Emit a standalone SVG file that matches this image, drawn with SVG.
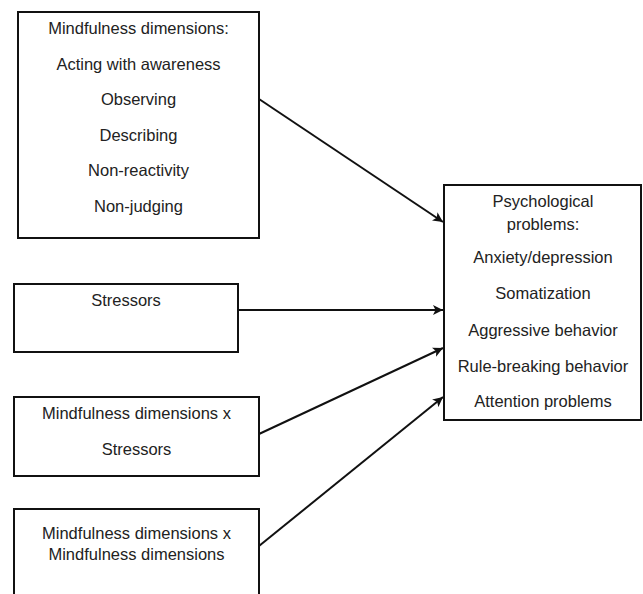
<svg xmlns="http://www.w3.org/2000/svg" width="643" height="594" viewBox="0 0 643 594">
<style>
.box{fill:#fff;stroke:#111;stroke-width:2}
.t{font-family:"Liberation Sans",Arial,sans-serif;font-size:16.5px;fill:#222;text-anchor:middle}
.c{stroke:#111;stroke-width:2;fill:none}
</style>
<defs>
<marker id="ah" viewBox="0 0 10 10" refX="10" refY="5" markerWidth="5" markerHeight="5" orient="auto" markerUnits="strokeWidth">
<path d="M0,0 L10,5 L0,10 L2.5,5 Z" fill="#111"/>
</marker>
</defs>
<rect width="643" height="594" fill="#fff"/>
<g id="connectors">
<line class="c" x1="259" y1="99" x2="443" y2="222" marker-end="url(#ah)"/>
<line class="c" x1="238" y1="310" x2="443" y2="310" marker-end="url(#ah)"/>
<line class="c" x1="259" y1="434" x2="443" y2="348" marker-end="url(#ah)"/>
<line class="c" x1="259" y1="546" x2="443" y2="397" marker-end="url(#ah)"/>
</g>
<g id="mindfulness">
<rect class="box" x="18" y="12" width="241" height="226"/>
<text class="t" x="138.5" y="34">Mindfulness dimensions:</text>
<text class="t" x="138.5" y="69.5">Acting with awareness</text>
<text class="t" x="138.5" y="105">Observing</text>
<text class="t" x="138.5" y="140.5">Describing</text>
<text class="t" x="138.5" y="176">Non-reactivity</text>
<text class="t" x="138.5" y="211.5">Non-judging</text>
</g>
<g id="stressors">
<rect class="box" x="14" y="284" width="224" height="68"/>
<text class="t" x="126" y="306">Stressors</text>
</g>
<g id="mxs">
<rect class="box" x="14" y="397" width="245" height="79"/>
<text class="t" x="136.5" y="419">Mindfulness dimensions x</text>
<text class="t" x="136.5" y="455">Stressors</text>
</g>
<g id="mxm">
<rect class="box" x="14" y="509" width="245" height="100"/>
<text class="t" x="136.5" y="539">Mindfulness dimensions x</text>
<text class="t" x="136.5" y="560">Mindfulness dimensions</text>
</g>
<g id="psych">
<rect class="box" x="444" y="185" width="197" height="235"/>
<text class="t" x="543" y="207">Psychological</text>
<text class="t" x="543" y="230">problems:</text>
<text class="t" x="543" y="263">Anxiety/depression</text>
<text class="t" x="543" y="299">Somatization</text>
<text class="t" x="543" y="335.5">Aggressive behavior</text>
<text class="t" x="543" y="371.5">Rule-breaking behavior</text>
<text class="t" x="543" y="407">Attention problems</text>
</g>
</svg>
